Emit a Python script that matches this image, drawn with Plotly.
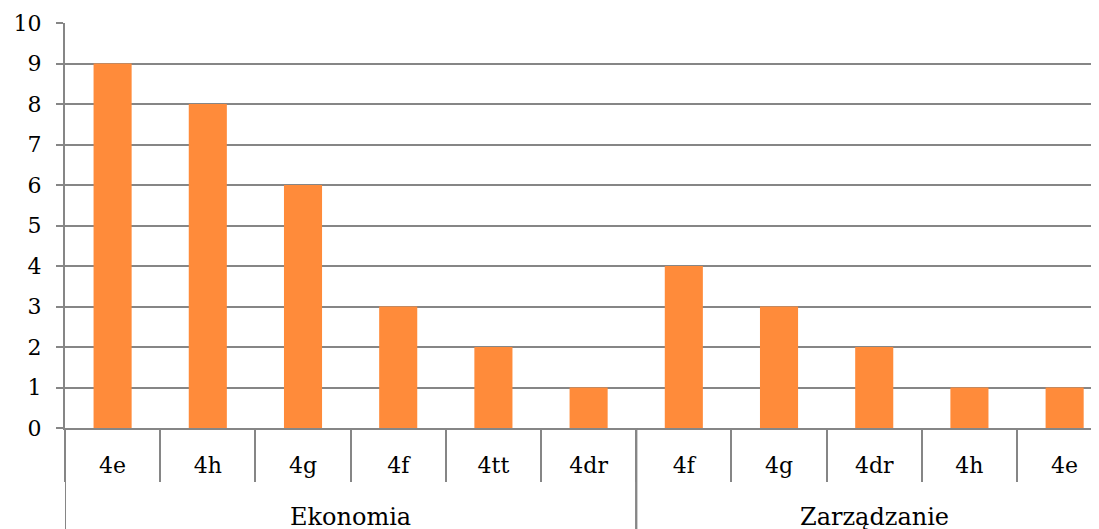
import plotly.graph_objects as go

groups = ["Ekonomia"] * 6 + ["Zarządzanie"] * 5
classes = ["4e", "4h", "4g", "4f", "4tt", "4dr", "4f", "4g", "4dr", "4h", "4e"]
values = [9, 8, 6, 3, 2, 1, 4, 3, 2, 1, 1]

GRID = "#868686"
FONT = "DejaVu Serif"
FS = 22
FS_GROUP = 24

xs = list(range(len(classes)))
bounds = [i - 0.5 for i in range(len(classes) + 1)]

group_names = []
for g in groups:
    if g not in group_names:
        group_names.append(g)
group_spans = []
for g in group_names:
    idx = [i for i, gg in enumerate(groups) if gg == g]
    group_spans.append((g, idx[0] - 0.5, idx[-1] + 0.5))

fig = go.Figure(
    go.Bar(
        x=xs,
        y=values,
        marker=dict(color="#FF8B3A", line=dict(width=0)),
        width=0.4,
        hovertext=[f"{g} {c}" for g, c in zip(groups, classes)],
    )
)

W, H = 1099, 529
ML, MT, MB = 57, 15, 109
PLOT_H = H - MT - MB
fig.update_layout(
    width=W,
    height=H,
    margin=dict(l=ML, r=0, t=MT, b=MB),
    plot_bgcolor="white",
    paper_bgcolor="white",
    showlegend=False,
    font=dict(family=FONT, size=FS, color="black"),
)

fig.update_xaxes(
    range=[-0.5, 10.445],
    tickmode="array",
    tickvals=xs,
    ticktext=classes,
    ticks="",
    ticklabelstandoff=17,
    showline=True,
    linecolor=GRID,
    linewidth=2,
    showgrid=False,
    zeroline=False,
    automargin=False,
    tickfont=dict(family=FONT, size=FS),
    minor=dict(
        tickmode="array",
        tickvals=bounds,
        ticks="outside",
        ticklen=52,
        tickcolor=GRID,
        tickwidth=2,
        showgrid=False,
    ),
)

fig.update_yaxes(
    range=[0, 10],
    dtick=1,
    showgrid=True,
    gridcolor=GRID,
    gridwidth=2,
    showline=True,
    linecolor=GRID,
    linewidth=2,
    ticks="outside",
    ticklen=7,
    tickcolor=GRID,
    tickwidth=2,
    zeroline=False,
    automargin=False,
    ticklabelstandoff=10,
    tickfont=dict(family=FONT, size=FS),
)

bottom = -MB / PLOT_H
for name, x0, x1 in group_spans:
    for xv in (x0, x1):
        fig.add_shape(
            type="line", xref="x", yref="paper",
            x0=xv, x1=xv, y0=0, y1=bottom,
            line=dict(color=GRID, width=2),
        )
    fig.add_annotation(
        x=(x0 + x1) / 2, xref="x",
        y=-89 / PLOT_H, yref="paper",
        text=name, showarrow=False,
        font=dict(family=FONT, size=FS_GROUP, color="black"),
        yanchor="middle",
    )

fig.write_html("out.html")
